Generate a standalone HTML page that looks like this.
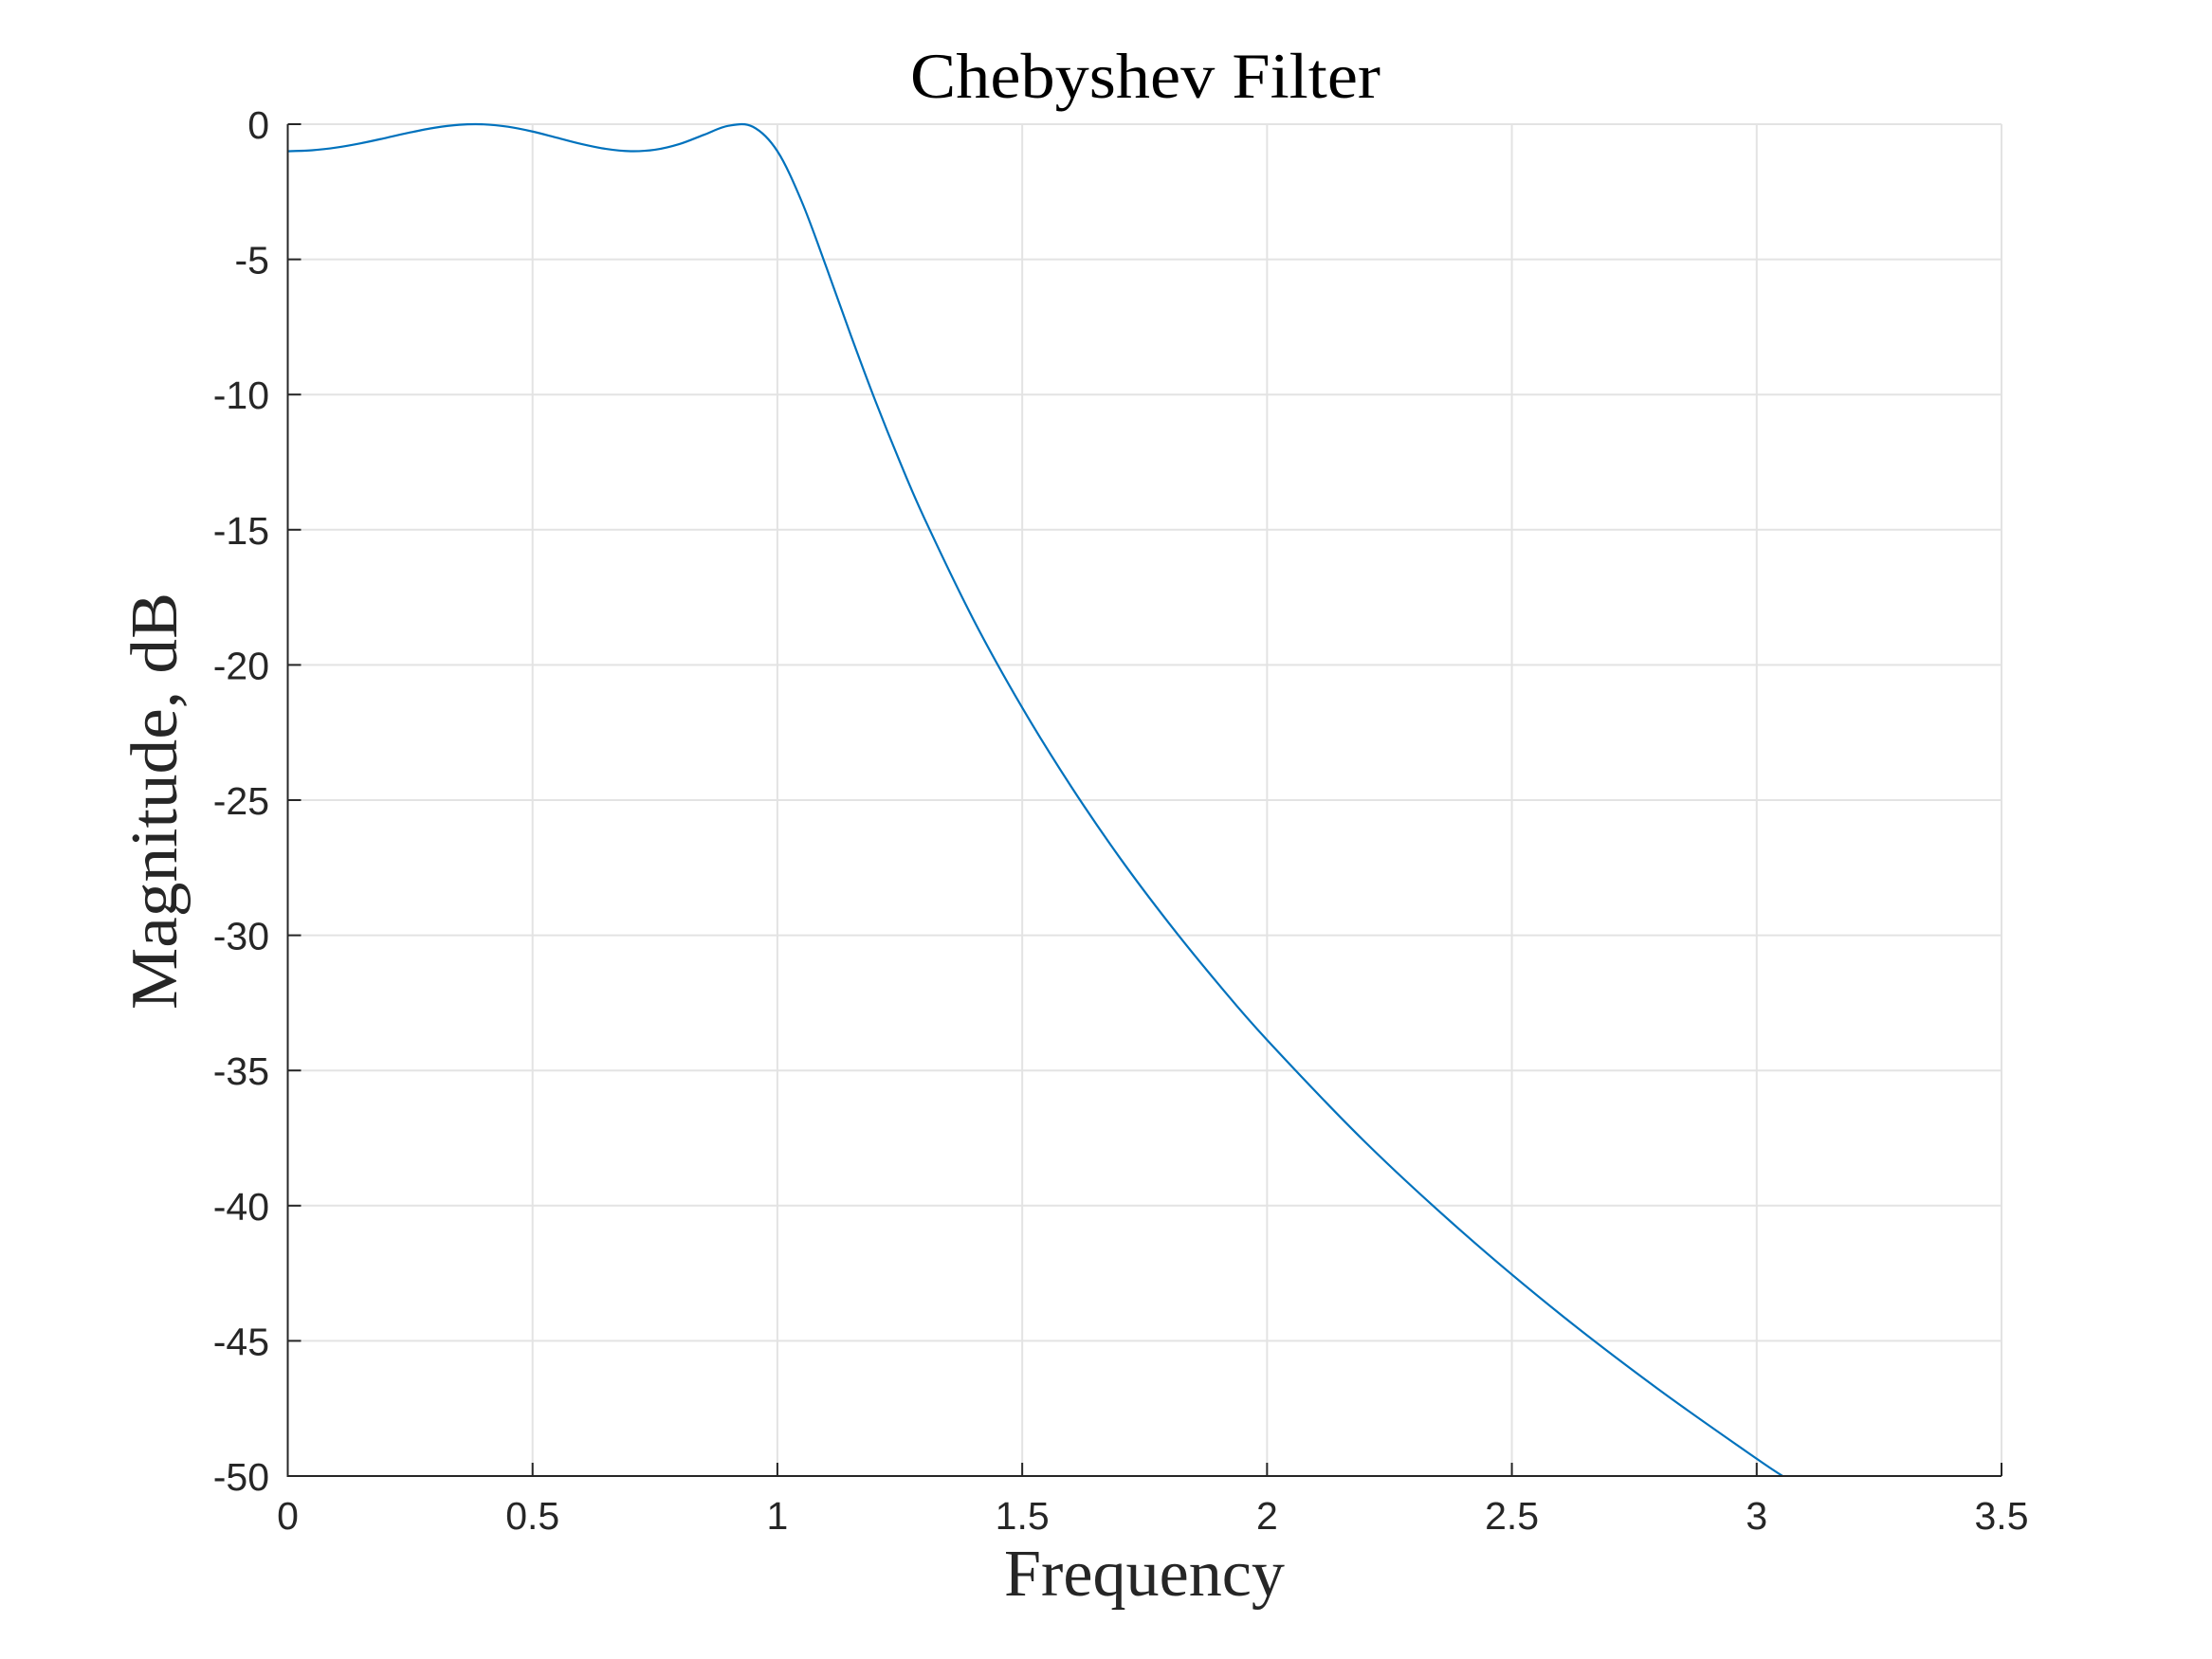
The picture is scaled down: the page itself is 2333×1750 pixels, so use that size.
<!DOCTYPE html>
<html><head><meta charset="utf-8"><style>html,body{margin:0;padding:0;background:#fff}svg{display:block}</style></head>
<body>
<svg id="chart" width="2333" height="1750" viewBox="0 0 2333 1750" xmlns="http://www.w3.org/2000/svg">
<defs><clipPath id="plotclip"><rect x="303.5" y="128" width="1808" height="1429"/></clipPath></defs>
<rect width="2333" height="1750" fill="#fff"/>
<g id="grid"></g>
<g id="series" clip-path="url(#plotclip)"></g>
<g id="axes"></g>
<text x="1208" y="103" text-anchor="middle" font-family="Liberation Serif, serif" font-size="68" textLength="496" lengthAdjust="spacingAndGlyphs" fill="#000">Chebyshev Filter</text>
<text x="1207" y="1683" text-anchor="middle" font-family="Liberation Serif, serif" font-size="70" textLength="296" lengthAdjust="spacingAndGlyphs" fill="#262626">Frequency</text>
<text x="0" y="0" transform="translate(186,845) rotate(-90)" text-anchor="middle" font-family="Liberation Serif, serif" font-size="70" textLength="440" lengthAdjust="spacingAndGlyphs" fill="#262626">Magnitude, dB</text>
</svg>
<script>
const xTicks = [0, 0.5, 1, 1.5, 2, 2.5, 3, 3.5];
const xTickLabels = ["0", "0.5", "1", "1.5", "2", "2.5", "3", "3.5"];
const yTicks = [0, -5, -10, -15, -20, -25, -30, -35, -40, -45, -50];
const yTickLabels = ["0", "-5", "-10", "-15", "-20", "-25", "-30", "-35", "-40", "-45", "-50"];
const freq = [0,0.05,0.1,0.15,0.2,0.25,0.3,0.35,0.4,0.45,0.5,0.55,0.6,0.65,0.7,0.75,0.8,0.85,0.9,0.95,1.0,1.05,1.1,1.15,1.2,1.25,1.3,1.4,1.5,1.6,1.7,1.8,1.9,2.0,2.2,2.4,2.6,2.8,3.0,3.06];
const magnitude = [-1.0,-0.965,-0.862,-0.703,-0.509,-0.306,-0.132,-0.022,-0.006,-0.095,-0.272,-0.502,-0.734,-0.915,-0.999,-0.945,-0.734,-0.392,-0.060,-0.097,-1.0,-2.875,-5.29,-7.81,-10.23,-12.48,-14.57,-18.31,-21.58,-24.50,-27.15,-29.56,-31.79,-33.87,-37.64,-40.99,-44.03,-46.80,-49.36,-50.08];

const X0=303.5, X1=2111, Y0=131, Y1=1557;
const xs = v => X0 + (v-0)/(3.5-0)*(X1-X0);
const ys = v => Y0 + (0-v)/(0-(-50))*(Y1-Y0);
const NS="http://www.w3.org/2000/svg";
function mk(tag, attrs){const e=document.createElementNS(NS,tag);for(const k in attrs)e.setAttribute(k,attrs[k]);return e;}
const grid=document.getElementById('grid'), axes=document.getElementById('axes'), series=document.getElementById('series');

xTicks.forEach((t,i)=>{
  const x=xs(t);
  if(i>0){const g=mk('line',{x1:x,y1:Y0,x2:x,y2:Y1,stroke:'#e3e3e3','stroke-width':2});
  
  
  grid.appendChild(g);}
  const tk=mk('line',{x1:x,y1:Y1,x2:x,y2:Y1-14,stroke:'#262626','stroke-width':2});
  
  
  axes.appendChild(tk);
  const lb=mk('text',{x:x,y:1613,'text-anchor':'middle','font-family':'Liberation Sans, sans-serif','font-size':41,fill:'#262626'});
  lb.textContent=xTickLabels[i];
  
  
  axes.appendChild(lb);
});
yTicks.forEach((t,i)=>{
  const y=ys(t);
  if(i<yTicks.length-1){const g=mk('line',{x1:X0,y1:y,x2:X1,y2:y,stroke:'#e3e3e3','stroke-width':2});
  
  
  grid.appendChild(g);}
  const tk=mk('line',{x1:X0,y1:y,x2:X0+14,y2:y,stroke:'#262626','stroke-width':2});
  
  
  axes.appendChild(tk);
  const lb=mk('text',{x:284,y:y+15,'text-anchor':'end','font-family':'Liberation Sans, sans-serif','font-size':41,fill:'#262626'});
  lb.textContent=yTickLabels[i];
  
  
  axes.appendChild(lb);
});
const ax=mk('path',{d:`M${X0},${Y0} L${X0},${Y1} L${X1},${Y1}`,fill:'none',stroke:'#262626','stroke-width':2});


axes.appendChild(ax);

const pts=freq.map((f,i)=>[xs(f),ys(magnitude[i])]);
let d=`M${pts[0][0]},${pts[0][1]}`;
for(let i=0;i<pts.length-1;i++){
  const p0=pts[Math.max(0,i-1)],p1=pts[i],p2=pts[i+1],p3=pts[Math.min(pts.length-1,i+2)];
  const c1=[p1[0]+(p2[0]-p0[0])/6,p1[1]+(p2[1]-p0[1])/6];
  const c2=[p2[0]-(p3[0]-p1[0])/6,p2[1]-(p3[1]-p1[1])/6];
  d+=` C${c1[0]},${c1[1]} ${c2[0]},${c2[1]} ${p2[0]},${p2[1]}`;
}
const line=mk('path',{d:d,fill:'none',stroke:'#0072BD','stroke-width':2.2});


series.appendChild(line);
</script>
</body></html>
